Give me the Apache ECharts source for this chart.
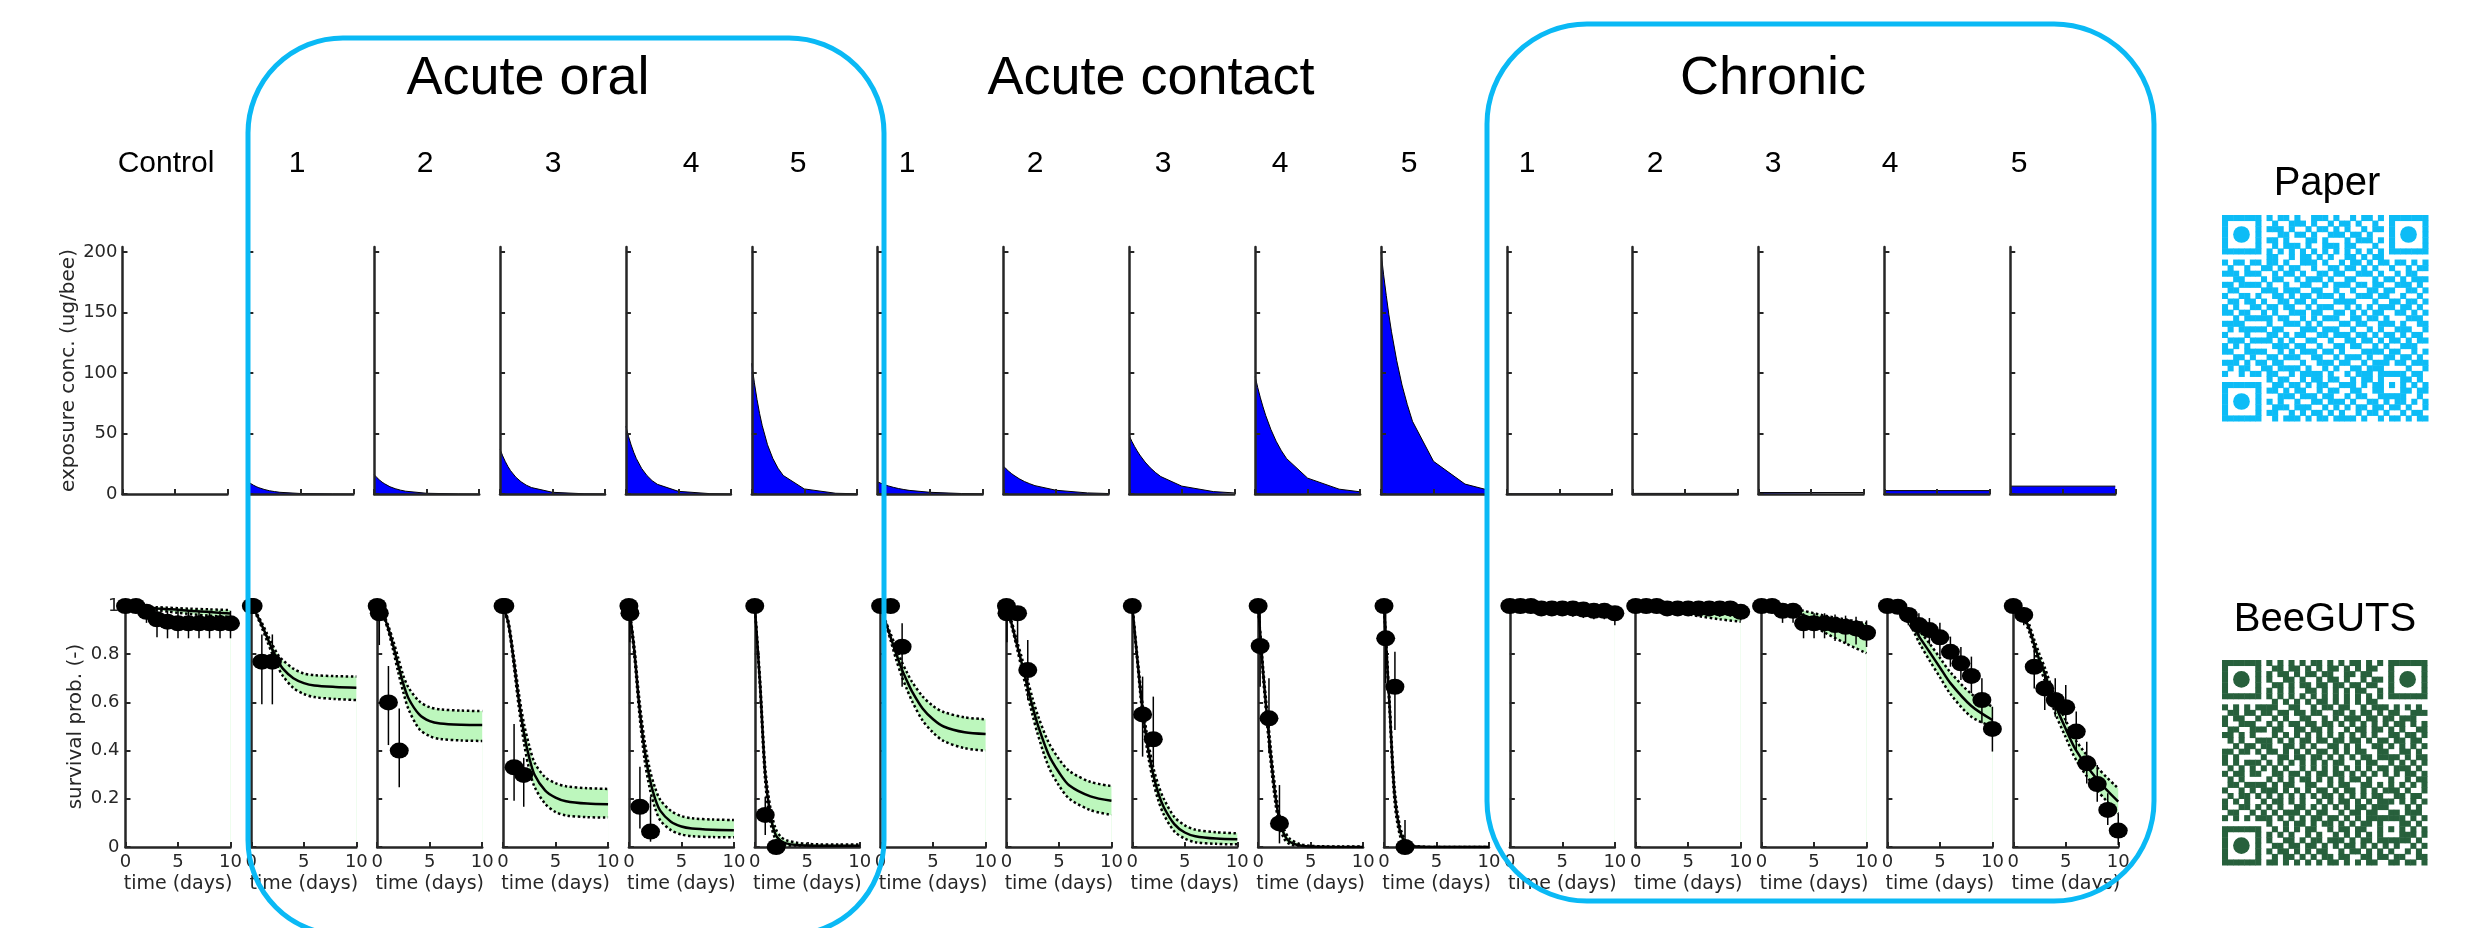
<!DOCTYPE html>
<html>
<head>
<meta charset="utf-8">
<script src="https://cdn.jsdelivr.net/npm/echarts@6/dist/echarts.min.js"></script>
<style>
  html, body { margin: 0; padding: 0; background: #fff; }
  #chart { width: 2475px; height: 928px; }
</style>
</head>
<body>
<div id="chart"></div>
<script>
// ---- exposure concentration (ug/bee), top row ----
const expT = [0, 0.25, 0.5, 0.75, 1, 1.5, 2, 2.5, 3, 5, 8, 10];
const expOral = [
  [10, 8.5, 7.2, 6.1, 5.2, 3.8, 2.7, 2.0, 1.4, 0.4, 0.1, 0],
  [16, 13.6, 11.6, 9.8, 8.4, 6.0, 4.4, 3.2, 2.3, 0.6, 0.1, 0],
  [37, 31.5, 26.8, 22.7, 19.3, 13.9, 10.1, 7.3, 5.3, 1.4, 0.2, 0.1],
  [56, 47.6, 40.5, 34.4, 29.2, 21.1, 15.3, 11.0, 8.0, 2.2, 0.3, 0.1],
  [108, 91.8, 78.1, 66.3, 56.4, 40.7, 29.5, 21.3, 15.3, 4.2, 0.6, 0.2]
];
const expContact = [
  [10, 9.1, 8.2, 7.4, 6.7, 5.5, 4.5, 3.7, 3.0, 1.4, 0.4, 0.2],
  [23, 20.8, 18.8, 17.0, 15.4, 12.6, 10.3, 8.5, 6.9, 3.1, 0.9, 0.4],
  [48, 43.4, 39.3, 35.6, 32.2, 26.4, 21.6, 17.7, 14.4, 6.5, 2.0, 0.9],
  [97, 87.8, 79.4, 71.9, 65.0, 53.3, 43.6, 35.7, 29.2, 13.1, 4.0, 1.8],
  [200, 181, 164, 148, 134, 110, 90, 74, 60, 27, 8.2, 3.7]
];
const chronicT = [0, 10];
const expChronic = [0.2, 0.5, 1.2, 2.8, 6.5];

// ---- survival, bottom row (control, oral 1-5, contact 1-5, chronic 1-5) ----
const fitT = [0, 0.5, 1, 1.5, 2, 2.5, 3, 4, 5, 6, 8, 10];
const fitMed = [
  [1, 0.999, 0.998, 0.996, 0.994, 0.992, 0.99, 0.987, 0.984, 0.98, 0.975, 0.969],
  [1, 0.965, 0.92, 0.87, 0.82, 0.775, 0.74, 0.70, 0.68, 0.67, 0.664, 0.661],
  [1, 0.97, 0.915, 0.84, 0.755, 0.675, 0.615, 0.55, 0.522, 0.512, 0.507, 0.506],
  [1, 0.93, 0.78, 0.61, 0.47, 0.37, 0.30, 0.235, 0.205, 0.19, 0.18, 0.177],
  [1, 0.82, 0.58, 0.40, 0.28, 0.20, 0.15, 0.105, 0.085, 0.077, 0.072, 0.07],
  [1, 0.68, 0.30, 0.13, 0.05, 0.025, 0.015, 0.008, 0.006, 0.005, 0.005, 0.005],
  [1, 0.93, 0.865, 0.80, 0.74, 0.69, 0.645, 0.575, 0.53, 0.50, 0.476, 0.469],
  [1, 0.925, 0.84, 0.755, 0.665, 0.58, 0.505, 0.385, 0.31, 0.255, 0.21, 0.192],
  [1, 0.77, 0.56, 0.41, 0.30, 0.22, 0.165, 0.095, 0.06, 0.045, 0.035, 0.032],
  [1, 0.71, 0.47, 0.26, 0.115, 0.05, 0.022, 0.006, 0.002, 0.001, 0, 0],
  [1, 0.61, 0.22, 0.07, 0.02, 0.006, 0.002, 0, 0, 0, 0, 0],
  [1, 1, 0.999, 0.998, 0.997, 0.996, 0.995, 0.992, 0.99, 0.987, 0.981, 0.975],
  [1, 1, 0.999, 0.997, 0.996, 0.994, 0.992, 0.988, 0.984, 0.98, 0.972, 0.965],
  [1, 1, 0.998, 0.994, 0.99, 0.984, 0.977, 0.962, 0.945, 0.926, 0.895, 0.866],
  [1, 0.995, 0.985, 0.965, 0.945, 0.915, 0.875, 0.81, 0.745, 0.68, 0.585, 0.527],
  [1, 0.985, 0.955, 0.91, 0.84, 0.775, 0.72, 0.59, 0.49, 0.40, 0.28, 0.188]
];
const fitLo = [
  [1, 0.998, 0.995, 0.992, 0.989, 0.986, 0.983, 0.977, 0.972, 0.967, 0.96, 0.955],
  [1, 0.96, 0.91, 0.855, 0.80, 0.75, 0.71, 0.66, 0.635, 0.622, 0.614, 0.61],
  [1, 0.965, 0.905, 0.82, 0.725, 0.64, 0.57, 0.49, 0.46, 0.448, 0.442, 0.44],
  [1, 0.92, 0.76, 0.58, 0.43, 0.32, 0.25, 0.18, 0.145, 0.131, 0.124, 0.122],
  [1, 0.80, 0.55, 0.36, 0.24, 0.16, 0.11, 0.07, 0.052, 0.045, 0.041, 0.04],
  [1, 0.66, 0.27, 0.10, 0.03, 0.012, 0.006, 0.003, 0.002, 0.001, 0.001, 0.001],
  [1, 0.925, 0.85, 0.775, 0.71, 0.655, 0.605, 0.525, 0.475, 0.44, 0.41, 0.40],
  [1, 0.915, 0.825, 0.73, 0.635, 0.545, 0.465, 0.335, 0.255, 0.20, 0.153, 0.133],
  [1, 0.755, 0.535, 0.38, 0.27, 0.19, 0.135, 0.065, 0.035, 0.02, 0.013, 0.011],
  [1, 0.69, 0.44, 0.23, 0.09, 0.033, 0.012, 0.002, 0, 0, 0, 0],
  [1, 0.59, 0.19, 0.05, 0.012, 0.003, 0.001, 0, 0, 0, 0, 0],
  [1, 1, 0.998, 0.996, 0.994, 0.992, 0.99, 0.985, 0.98, 0.974, 0.962, 0.95],
  [1, 1, 0.997, 0.994, 0.99, 0.986, 0.982, 0.974, 0.966, 0.958, 0.945, 0.935],
  [1, 1, 0.996, 0.99, 0.982, 0.972, 0.962, 0.94, 0.915, 0.89, 0.845, 0.804],
  [1, 0.993, 0.98, 0.955, 0.93, 0.895, 0.85, 0.775, 0.705, 0.635, 0.54, 0.50],
  [1, 0.98, 0.945, 0.895, 0.82, 0.75, 0.69, 0.555, 0.455, 0.36, 0.235, 0.14]
];
const fitHi = [
  [1, 1, 0.999, 0.998, 0.997, 0.996, 0.995, 0.993, 0.991, 0.989, 0.986, 0.983],
  [1, 0.97, 0.93, 0.885, 0.84, 0.80, 0.775, 0.74, 0.72, 0.713, 0.709, 0.707],
  [1, 0.975, 0.925, 0.86, 0.785, 0.71, 0.66, 0.605, 0.58, 0.571, 0.566, 0.564],
  [1, 0.94, 0.80, 0.64, 0.51, 0.42, 0.35, 0.29, 0.265, 0.252, 0.244, 0.241],
  [1, 0.84, 0.61, 0.44, 0.32, 0.245, 0.195, 0.15, 0.128, 0.119, 0.114, 0.112],
  [1, 0.70, 0.33, 0.16, 0.075, 0.042, 0.028, 0.018, 0.013, 0.011, 0.01, 0.01],
  [1, 0.935, 0.88, 0.825, 0.77, 0.725, 0.685, 0.625, 0.585, 0.56, 0.538, 0.53],
  [1, 0.935, 0.855, 0.78, 0.695, 0.615, 0.545, 0.435, 0.365, 0.315, 0.27, 0.253],
  [1, 0.785, 0.585, 0.44, 0.33, 0.255, 0.20, 0.125, 0.09, 0.072, 0.061, 0.057],
  [1, 0.73, 0.50, 0.29, 0.14, 0.07, 0.035, 0.012, 0.005, 0.003, 0.002, 0.002],
  [1, 0.63, 0.25, 0.09, 0.03, 0.01, 0.004, 0.001, 0, 0, 0, 0],
  [1, 1, 1, 0.999, 0.999, 0.998, 0.998, 0.997, 0.995, 0.993, 0.989, 0.985],
  [1, 1, 1, 0.999, 0.998, 0.997, 0.996, 0.994, 0.992, 0.99, 0.987, 0.985],
  [1, 1, 0.999, 0.997, 0.995, 0.992, 0.988, 0.98, 0.97, 0.96, 0.944, 0.928],
  [1, 0.997, 0.99, 0.975, 0.96, 0.935, 0.90, 0.845, 0.785, 0.725, 0.635, 0.582],
  [1, 0.99, 0.965, 0.925, 0.86, 0.80, 0.745, 0.62, 0.525, 0.44, 0.33, 0.243]
];

const dayT = [0, 1, 2, 3, 4, 5, 6, 7, 8, 9, 10];
const obsT = [
  dayT,
  [0, 0.17, 1, 2], [0, 0.2, 1.07, 2.1], [0, 0.17, 1.05, 1.97], [0, 0.1, 1.05, 2.06], [0, 1, 2.04],
  [0, 0.95, 2.05], [0, 0.05, 1.06, 2.03], [0, 0.98, 2.0], [0, 0.19, 1.03, 2.03], [0, 0.16, 1.04, 2.0],
  dayT, dayT, dayT, dayT, dayT
];
const obsS = [
  [1, 1, 0.976, 0.945, 0.935, 0.928, 0.928, 0.928, 0.928, 0.928, 0.928],
  [1, 1, 0.769, 0.769],
  [1, 0.97, 0.6, 0.4],
  [1, 1, 0.331, 0.299],
  [1, 0.97, 0.167, 0.064],
  [1, 0.133, 0],
  [1, 1, 0.831],
  [1, 0.97, 0.97, 0.734],
  [1, 0.55, 0.447],
  [1, 0.834, 0.534, 0.098],
  [1, 0.866, 0.665, 0],
  [1, 1, 1, 0.99, 0.99, 0.99, 0.99, 0.985, 0.98, 0.98, 0.97],
  [1, 1, 1, 0.99, 0.99, 0.99, 0.99, 0.99, 0.99, 0.99, 0.976],
  [1, 1, 0.98, 0.98, 0.928, 0.928, 0.928, 0.921, 0.914, 0.907, 0.889],
  [1, 0.997, 0.963, 0.921, 0.9, 0.87, 0.81, 0.762, 0.71, 0.61, 0.49],
  [1, 0.963, 0.748, 0.658, 0.61, 0.58, 0.479, 0.347, 0.261, 0.154, 0.068]
];
const obsLo = [
  [1, 1, 0.93, 0.87, 0.866, 0.866, 0.866, 0.866, 0.866, 0.866, 0.866],
  [1, 1, 0.592, 0.592],
  [1, 0.838, 0.423, 0.248],
  [1, 1, 0.192, 0.167],
  [1, 0.85, 0.077, 0.022],
  [1, 0.05, 0],
  [1, 1, 0.665],
  [1, 0.85, 0.845, 0.61],
  [1, 0.375, 0.33],
  [1, 0.665, 0.389, 0.015],
  [1, 0.68, 0.485, 0],
  [1, 1, 0.97, 0.96, 0.96, 0.96, 0.955, 0.95, 0.945, 0.945, 0.92],
  [1, 1, 0.97, 0.96, 0.96, 0.96, 0.96, 0.96, 0.955, 0.955, 0.94],
  [1, 1, 0.93, 0.93, 0.866, 0.866, 0.866, 0.855, 0.845, 0.84, 0.83],
  [1, 0.97, 0.92, 0.87, 0.84, 0.79, 0.748, 0.693, 0.638, 0.513, 0.396],
  [1, 0.92, 0.658, 0.568, 0.54, 0.513, 0.402, 0.264, 0.188, 0.091, 0.008]
];
const obsHi = [
  [1, 1, 1, 0.99, 0.98, 0.98, 0.98, 0.98, 0.98, 0.98, 0.98],
  [1, 1, 0.882, 0.882],
  [1, 1, 0.751, 0.575],
  [1, 1, 0.51, 0.37],
  [1, 1, 0.333, 0.209],
  [1, 0.209, 0],
  [1, 1, 0.928],
  [1, 1, 1, 0.859],
  [1, 0.707, 0.624],
  [1, 1, 0.7, 0.257],
  [1, 1, 0.81, 0.112],
  [1, 1, 1, 1, 1, 1, 1, 1, 0.995, 0.995, 0.99],
  [1, 1, 1, 1, 1, 1, 1, 1, 1, 1, 0.995],
  [1, 1, 1, 1, 0.97, 0.97, 0.97, 0.965, 0.96, 0.955, 0.94],
  [1, 1, 0.995, 0.97, 0.95, 0.93, 0.873, 0.83, 0.79, 0.70, 0.582],
  [1, 0.995, 0.83, 0.73, 0.7, 0.672, 0.562, 0.437, 0.34, 0.223, 0.14]
];

const colLabels = ['Control', '1', '2', '3', '4', '5', '1', '2', '3', '4', '5', '1', '2', '3', '4', '5'];
const colLabelX = [166, 297, 425, 553, 691, 798, 907, 1035, 1163, 1280, 1409, 1527, 1655, 1773, 1890, 2019];
const groupTitles = ['Acute oral', 'Acute contact', 'Chronic'];
const groupTitleX = [528, 1151, 1773];

// QR module rows (1 = module, o = finder centre dot)
const qrRows = [
  "1111111 0 1011010 0111010 0101101 0 1111111",
  "1000001 0 0100111 0100101 1010010 0 1000001",
  "1000001 0 1110100 1011010 1001011 0 1000001",
  "100o001 0 0011011 0100111 0110100 0 100o001",
  "1000001 0 1101000 1101000 1011101 0 1000001",
  "1000001 0 0101110 1001110 1100010 0 1000001",
  "1111111 0 1010101 0101010 1010101 0 1111111",
  "0000000 0 1100101 1010100 1101011 0 0000000",
  "101101 1 011010 011101 001011 010110 110101",
  "010010 0 110101 100100 110110 101001 001011",
  "111011 1 001011 010011 011001 110100 101100",
  "001100 0 101100 101110 100110 001011 010111",
  "110111 1 010010 011001 011101 101100 111010",
  "011000 0 111011 100110 010010 011011 001101",
  "100110 1 001101 011011 101001 110110 010010",
  "011011 0 100110 110100 011110 001001 101101",
  "101001 1 011011 001011 100101 010111 011010",
  "110110 0 101001 110110 011010 101100 110101",
  "001011 1 110110 010101 110011 011010 001110",
  "111100 0 010011 101010 001101 100111 010011",
  "010111 1 101100 011101 110010 010100 111001",
  "100010 0 011010 110011 011101 101011 010110",
  "011101 1 110101 001100 100110 110101 101011",
  "101010 0 001110 110010 011011 001010 011100",
  "110011 1 100101 011101 101000 111101 100101",
  "001101 0 011011 100110 010111 010011 011010",
  "111010 1 101100 010011 101100 101110 110111",
  "010110 0 110111 101001 010011 011100 001001",
  "100101 1 011001 011110 100101 110111 110110",
  "0000000 0 1011001 0110110 0101101 00011010",
  "1111111 0 0110110 1011001 1101011 01010101",
  "1000001 0 1101011 0010110 0110011 00011011",
  "1000001 0 0011101 1101100 1011001 11110010",
  "100o001 0 1010010 0110111 0100110 10110101",
  "1000001 0 0111011 1001010 1011011 01101001",
  "1000001 0 1100101 0110101 0010110 10010110",
  "1111111 0 0101110 1011011 1101001 01101011"
];

// ---- layout ----
const panelLeft = (i) => 125.5 + 125.85 * i;
const PW = 105;
const INK = '#262626';
const FONT = 'DejaVu Sans';

const grid = [], xAxis = [], yAxis = [], series = [];

const axisLine = { show: true, onZero: false, lineStyle: { color: INK, width: 2.5 } };
const axisTick = { show: true, inside: true, length: 5, lineStyle: { color: INK, width: 2 } };

// top row: exposure
for (let i = 0; i < 16; i++) {
  grid.push({ left: panelLeft(i) - 3, top: 247, width: PW, height: 247, outerBoundsMode: 'none' });
  xAxis.push({
    gridIndex: i, type: 'value', min: 0, max: 10, interval: 5, z: 3,
    axisLine, axisTick, axisLabel: { show: false }, splitLine: { show: false }
  });
  yAxis.push({
    gridIndex: i, type: 'value', min: 0, max: 204, interval: 50, z: 3,
    axisLine,
    axisTick: Object.assign({}, axisTick, { customValues: [0, 50, 100, 150, 200] }),
    axisLabel: {
      show: i === 0, customValues: [0, 50, 100, 150, 200], margin: 5,
      fontFamily: FONT, fontSize: 18, color: INK
    },
    splitLine: { show: false },
    name: i === 0 ? 'exposure conc. (ug/bee)' : '',
    nameLocation: 'middle', nameGap: 44,
    nameTextStyle: { fontFamily: FONT, fontSize: 20, color: INK }
  });
  let data = null;
  if (i >= 1 && i <= 5) data = expT.map((t, k) => [t, expOral[i - 1][k]]);
  else if (i >= 6 && i <= 10) data = expT.map((t, k) => [t, expContact[i - 6][k]]);
  else if (i >= 11) data = chronicT.map((t) => [t, expChronic[i - 11]]);
  if (data) {
    series.push({
      type: 'line', xAxisIndex: i, yAxisIndex: i, data, symbol: 'none',
      lineStyle: { color: '#000', width: 1 },
      areaStyle: { color: '#0000ff', opacity: 1 }, z: 1
    });
  }
}

// bottom row: survival
const dotSymbol = 'path://M0,10A10,10,0,1,0,20,10A10,10,0,1,0,0,10Z';
for (let p = 0; p < 16; p++) {
  const g = 16 + p;
  grid.push({ left: panelLeft(p), top: 606, width: PW, height: 241, outerBoundsMode: 'none' });
  xAxis.push({
    gridIndex: g, type: 'value', min: 0, max: 10, interval: 5, z: 3,
    axisLine, axisTick,
    axisLabel: { margin: 6, fontFamily: FONT, fontSize: 18, color: INK },
    splitLine: { show: false },
    name: 'time (days)', nameLocation: 'middle', nameGap: 28,
    nameTextStyle: { fontFamily: FONT, fontSize: 19, color: INK }
  });
  yAxis.push({
    gridIndex: g, type: 'value', min: 0, max: 1, interval: 0.2, z: 3,
    axisLine, axisTick,
    axisLabel: {
      show: p === 0, margin: 6, fontFamily: FONT, fontSize: 18, color: INK,
      formatter: (v) => (v === 0 ? '0' : v === 1 ? '1' : v.toFixed(1))
    },
    splitLine: { show: false },
    name: p === 0 ? 'survival prob. (-)' : '',
    nameLocation: 'middle', nameGap: 40,
    nameTextStyle: { fontFamily: FONT, fontSize: 20, color: INK }
  });
  const dotted = { color: '#000', width: 2.5, type: 'dotted' };
  // upper bound: green fill down to 0, then lower bound: white fill down to 0
  series.push({
    type: 'line', xAxisIndex: g, yAxisIndex: g, symbol: 'none', smooth: 0.3,
    data: fitT.map((t, k) => [t, fitHi[p][k]]),
    lineStyle: dotted, areaStyle: { color: '#bdf7bd', opacity: 1 }, z: 1
  });
  series.push({
    type: 'line', xAxisIndex: g, yAxisIndex: g, symbol: 'none', smooth: 0.3,
    data: fitT.map((t, k) => [t, fitLo[p][k]]),
    lineStyle: dotted, areaStyle: { color: '#ffffff', opacity: 1 }, z: 1
  });
  series.push({
    type: 'line', xAxisIndex: g, yAxisIndex: g, symbol: 'none', smooth: 0.3,
    data: fitT.map((t, k) => [t, fitMed[p][k]]),
    lineStyle: { color: '#000', width: 2.5 }, z: 4
  });
  series.push({
    type: 'custom', xAxisIndex: g, yAxisIndex: g, z: 5,
    data: obsT[p].map((t, k) => [t, obsLo[p][k], obsHi[p][k]]),
    encode: { x: 0, y: [1, 2] },
    renderItem: (params, api) => {
      const a = api.coord([api.value(0), api.value(1)]);
      const b = api.coord([api.value(0), api.value(2)]);
      return {
        type: 'line',
        shape: { x1: a[0], y1: a[1], x2: b[0], y2: b[1] },
        style: { stroke: '#000', lineWidth: 1.5 }
      };
    }
  });
  series.push({
    type: 'scatter', xAxisIndex: g, yAxisIndex: g, z: 6, clip: false,
    symbol: dotSymbol, symbolSize: [19, 16],
    itemStyle: { color: '#000', opacity: 1 },
    data: obsT[p].map((t, k) => [t, obsS[p][k]])
  });
}

// QR codes
const qrBits = qrRows.map((r) => r.replace(/ /g, ''));
const qrPaper = [], qrBee = [];
qrBits.forEach((row, r) => {
  for (let c = 0; c < row.length; c++) {
    const ch = row[c];
    if (ch === '1' || ch === 'o') {
      const kind = ch === 'o' ? 2 : 1;
      qrPaper.push([c, r, kind]);
      qrBee.push([r, c, kind]);
    }
  }
});
const qrBoxes = [
  { left: 2222, top: 215, size: 206, color: '#0dbcf6', data: qrPaper },
  { left: 2222, top: 660, size: 205, color: '#27603c', data: qrBee }
];
qrBoxes.forEach((q, k) => {
  const g = 32 + k;
  grid.push({ left: q.left, top: q.top, width: q.size, height: q.size, outerBoundsMode: 'none' });
  xAxis.push({ gridIndex: g, type: 'value', min: -0.5, max: 36.5, show: false });
  yAxis.push({ gridIndex: g, type: 'value', min: -0.5, max: 36.5, inverse: true, show: false });
  series.push({
    type: 'custom', xAxisIndex: g, yAxisIndex: g, data: q.data,
    renderItem: (params, api) => {
      const c0 = api.coord([api.value(0) - 0.5, api.value(1) - 0.5]);
      const c1 = api.coord([api.value(0) + 0.5, api.value(1) + 0.5]);
      const x = Math.min(c0[0], c1[0]), y = Math.min(c0[1], c1[1]);
      const w = Math.abs(c1[0] - c0[0]), h = Math.abs(c1[1] - c0[1]);
      if (api.value(2) === 2) {
        return { type: 'circle', shape: { cx: x + w / 2, cy: y + h / 2, r: w * 1.5 }, style: { fill: q.color } };
      }
      return { type: 'rect', shape: { x: x, y: y, width: w + 0.5, height: h + 0.5 }, style: { fill: q.color } };
    }
  });
});

// texts and frames
const textEl = (text, x, y, size, family) => ({
  type: 'text', z: 50,
  style: {
    text, x, y, fill: '#000',
    font: size + 'px "' + family + '"',
    textAlign: 'center', textVerticalAlign: 'middle',
    align: 'center', verticalAlign: 'middle'
  }
});
const graphic = [];
groupTitles.forEach((t, k) => graphic.push(textEl(t, groupTitleX[k], 79, 54, 'Liberation Sans')));
colLabels.forEach((t, k) => graphic.push(textEl(t, colLabelX[k], 164, 30, 'Liberation Sans')));
graphic.push(textEl('Paper', 2327, 184, 40, 'Liberation Sans'));
graphic.push(textEl('BeeGUTS', 2325, 620, 40, 'Liberation Sans'));
const frameStyle = { fill: 'none', stroke: '#0ab9f5', lineWidth: 5 };
graphic.push({ type: 'rect', z: 100, shape: { x: 248, y: 38, width: 636, height: 897, r: 95 }, style: frameStyle });
graphic.push({ type: 'rect', z: 100, shape: { x: 1487, y: 24, width: 667, height: 877, r: 100 }, style: frameStyle });

const chart = echarts.init(document.getElementById('chart'), null, { renderer: 'canvas' });
chart.setOption({
  backgroundColor: '#fff',
  animation: false,
  tooltip: { show: false },
  grid, xAxis, yAxis, series,
  graphic: { elements: graphic }
});
</script>
</body>
</html>
